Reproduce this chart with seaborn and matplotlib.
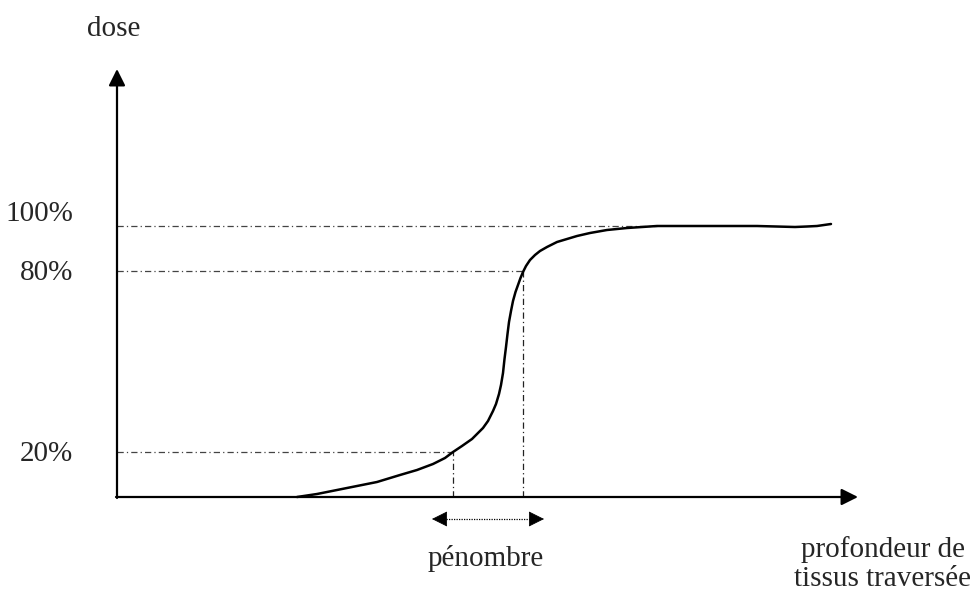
import numpy as np
import matplotlib
matplotlib.use("Agg")
import matplotlib.pyplot as plt
import seaborn as sns
import pandas as pd

# ---- data (depth units / height units, origin at the axes crossing) ----
depth = [180, 200, 220, 240, 260, 283, 300, 316, 328, 336, 345, 355, 360,
         366, 371, 376, 379, 382, 384, 386, 387.5, 389, 390.5, 392, 394, 396,
         398.5, 401, 403.5, 406, 409, 413, 418, 423, 430, 440, 450, 460, 473,
         490, 510, 540, 583, 640, 678, 690, 700, 714]
dose = [0, 3, 7, 11, 15, 22, 27, 33, 39, 45, 51, 58, 63,
        69, 76, 86, 93, 103, 112, 124, 138, 150, 163, 175, 186, 196,
        205, 212, 219, 225, 231, 237, 242, 246, 250, 255, 258, 261, 264,
        267, 269, 271, 271, 271, 270, 270.5, 271, 273]

level_labels = ["100%", "80%", "20%"]
level_heights = [271, 226, 45]
level_ends = [540, 406, 336]       # where each reference line meets the curve
drop_depths = [336, 406]           # vertical drop lines (20% and 80%)
drop_heights = [45, 226]

penumbra = [336, 406]

x_label = "profondeur de\ntissus traversée"
y_label = "dose"
pen_label = "pénombre"

W, H = 976, 593
ox, oy = 117, 497            # pixel of origin
xmax, ymax = 741, 428        # arrow tips

sns.set_theme(style="white")
plt.rcParams["font.family"] = ["Liberation Serif", "DejaVu Serif"]

fig = plt.figure(figsize=(W / 100, H / 100), dpi=100)
ax = fig.add_axes([ox / W, (H - oy) / H, xmax / W, ymax / H])
ax.set_xlim(0, xmax)
ax.set_ylim(0, ymax)
ax.axis("off")

arrow_kw = dict(arrowstyle="-|>,head_length=1.0,head_width=0.5", color="black",
                lw=1.6, shrinkA=0, shrinkB=0, mutation_scale=10)

# axes with arrows
ax.annotate("", xy=(xmax, 0), xytext=(-1, 0), arrowprops=arrow_kw,
            annotation_clip=False)
ax.annotate("", xy=(0, ymax), xytext=(0, -1), arrowprops=arrow_kw,
            annotation_clip=False)

dash = (0, (5, 2.5, 1, 2.5))
# horizontal reference lines
for h, e in zip(level_heights, level_ends):
    ax.plot([0, e], [h, h], color="#444444", lw=0.9, ls=dash, clip_on=False)
# vertical drop lines
for d, h in zip(drop_depths, drop_heights):
    ax.plot([d, d], [0, h], color="#222222", lw=0.9, ls=dash, clip_on=False)

# the curve
df = pd.DataFrame({"depth": depth, "dose": dose})
sns.lineplot(data=df, x="depth", y="dose", ax=ax, color="black", lw=1.8,
             sort=False, estimator=None, clip_on=False)
ax.axis("off")

# penumbra double arrow
ya = -22
ax.plot([penumbra[0] - 7, penumbra[1] + 7], [ya, ya], color="black",
        lw=0.9, ls=(0, (1, 1)), clip_on=False)
head_kw = dict(arrowstyle="-|>,head_length=1.0,head_width=0.5", color="black",
               lw=0.5, shrinkA=0, shrinkB=0, mutation_scale=10)
ax.annotate("", xy=(penumbra[0] - 21, ya), xytext=(penumbra[0] - 7, ya),
            arrowprops=head_kw, annotation_clip=False)
ax.annotate("", xy=(penumbra[1] + 21, ya), xytext=(penumbra[1] + 7, ya),
            arrowprops=head_kw, annotation_clip=False)

fs = 21
for lab, h in zip(level_labels, level_heights):
    ax.text(-44, h + (12 if lab == "100%" else -2), lab, ha="right",
            va="center", fontsize=fs, clip_on=False)

ax.text(-3, 468, y_label, ha="center", va="center", fontsize=fs, clip_on=False)
ax.text(369, -62, pen_label, ha="center", va="center", fontsize=fs,
        clip_on=False)
ax.text(766, -67, x_label, ha="center", va="center", fontsize=fs,
        linespacing=1.15, clip_on=False)

fig.savefig("out.png", dpi=100)
